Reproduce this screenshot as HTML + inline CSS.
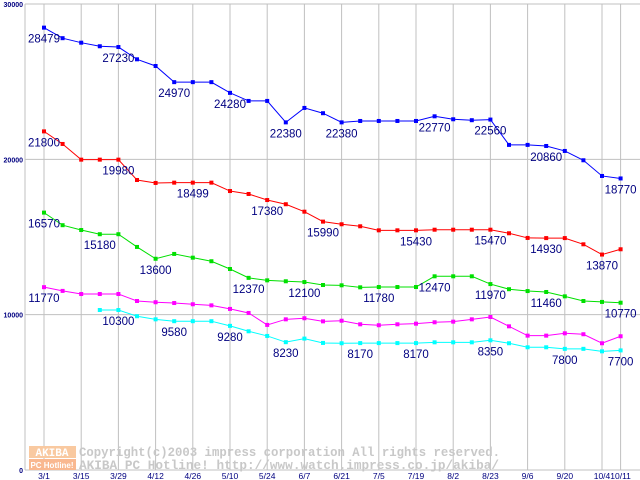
<!DOCTYPE html>
<html><head><meta charset="utf-8"><style>
body{margin:0;background:#fff}
svg{display:block}
.t{font-family:"Liberation Sans",sans-serif;fill:#000080}
</style></head><body>
<svg id="c" width="640" height="480" xmlns="http://www.w3.org/2000/svg"></svg>
<script>
const xLabels=["3/1","3/15","3/29","4/12","4/26","5/10","5/24","6/7","6/21","7/5","7/19","8/2","8/23","9/6","9/20","10/4","10/11"];
const yTicks=[0,10000,20000,30000];
const blue=[28479,27800,27510,27280,27230,26440,26010,24970,24970,24970,24280,23760,23760,22380,23310,22970,22380,22470,22470,22470,22470,22770,22580,22520,22560,20930,20930,20860,20540,19940,18930,18770];
const red=[21800,20990,19980,19980,19980,18670,18480,18499,18499,18499,17960,17770,17380,17110,16630,15990,15820,15690,15430,15430,15430,15470,15470,15470,15470,15240,14940,14930,14930,14530,13870,14210];
const green=[16570,15760,15450,15180,15180,14360,13600,13910,13670,13440,12940,12370,12210,12150,12100,11910,11890,11760,11780,11780,11780,12470,12470,12470,11970,11640,11520,11460,11180,10880,10820,10770];
const magenta=[11770,11530,11330,11330,11330,10880,10800,10750,10670,10600,10370,10110,9340,9700,9770,9570,9610,9380,9320,9380,9420,9510,9550,9700,9850,9250,8650,8650,8800,8740,8160,8610];
const cyan=[null,null,null,10300,10300,9900,9700,9580,9580,9580,9280,8930,8630,8230,8460,8180,8160,8170,8170,8170,8170,8220,8220,8220,8350,8160,7900,7900,7800,7800,7640,7700];
const blueLabels=[0,4,7,10,13,16,21,24,27,31];
const redLabels=[0,4,8,12,15,20,24,27,30];
const greenLabels=[0,3,6,11,14,18,21,24,27,31];
const magentaLabels=[0];
const cyanLabels=[4,7,10,13,17,20,24,28,31];
const NS="http://www.w3.org/2000/svg";
const svg=document.getElementById('c');
const X=i=>44+i*18.6;
const Y=v=>470-v*0.015533;
function mk(tag,a,p){const e=document.createElementNS(NS,tag);for(const k in a)e.setAttribute(k,a[k]);(p||svg).appendChild(e);return e;}
for(let k=0;k<xLabels.length;k++){
  const i=k<16?k*2:31;
  const l=mk('line',{x1:X(i),x2:X(i),y1:4,y2:470,stroke:'#c0c0c0','stroke-width':1});
  
  
  const t=mk('text',{x:X(i),y:479,'text-anchor':'middle','font-size':8.5,class:'t'});
  t.textContent=xLabels[k];
  
  
}
mk('line',{x1:25,x2:25,y1:4,y2:470,stroke:'#c0c0c0'});
yTicks.forEach(v=>{
  const l=mk('line',{x1:25,x2:640,y1:Y(v),y2:Y(v),stroke:'#c0c0c0'});
  
  
  const t=mk('text',{x:23,y:Y(v)+3,'text-anchor':'end','font-size':7,'font-weight':'bold',class:'t'});
  t.textContent=v;
  
  
});
const g=mk('g',{});


mk('rect',{x:29,y:446,width:47,height:12,fill:'#f9c9a0'},g);
mk('rect',{x:29,y:459,width:47,height:11,fill:'#f9b890'},g);
const a1=mk('text',{x:52,y:456,'text-anchor':'middle','font-size':11,'font-family':'Liberation Mono,monospace',fill:'#fff','font-weight':'bold'},g);a1.textContent='AKIBA';
const a2=mk('text',{x:52,y:468,'text-anchor':'middle','font-size':8,'font-family':'Liberation Sans,sans-serif',fill:'#fff','font-weight':'bold'},g);a2.textContent='PC Hotline!';
const w1=mk('text',{x:79,y:456,'font-size':12.5,textLength:421,lengthAdjust:'spacingAndGlyphs','font-family':'Liberation Mono,monospace',fill:'#c8c8c8','font-weight':'bold'},g);w1.textContent='Copyright(c)2003 impress corporation All rights reserved.';
const w2=mk('text',{x:79,y:469,'font-size':12.5,textLength:420,lengthAdjust:'spacingAndGlyphs','font-family':'Liberation Mono,monospace',fill:'#c8c8c8','font-weight':'bold'},g);w2.textContent='AKIBA PC Hotline!  http://www.watch.impress.co.jp/akiba/';
function series(data,color,labels,name){
  const sg=mk('g',{});
  
  
  const pts=[];data.forEach((v,i)=>{if(v!=null)pts.push(X(i)+','+Y(v));});
  mk('polyline',{points:pts.join(' '),fill:'none',stroke:color,'stroke-width':1},sg);
  data.forEach((v,i)=>{if(v==null)return;
    const r=mk('rect',{x:X(i)-2,y:Y(v)-2,width:4,height:4,fill:color},sg);
    
    
  });
  labels.forEach(i=>{
    const t=mk('text',{x:X(i),y:Y(data[i])+15,'text-anchor':'middle','font-size':11.5,class:'t'},sg);
    t.textContent=data[i];
    
    
  });
}
series(blue,'#0000ff',blueLabels,'series-blue');
series(red,'#ff0000',redLabels,'series-red');
series(green,'#00e000',greenLabels,'series-green');
series(magenta,'#ff00ff',magentaLabels,'series-magenta');
series(cyan,'#00ffff',cyanLabels,'series-cyan');
</script>
</body></html>
